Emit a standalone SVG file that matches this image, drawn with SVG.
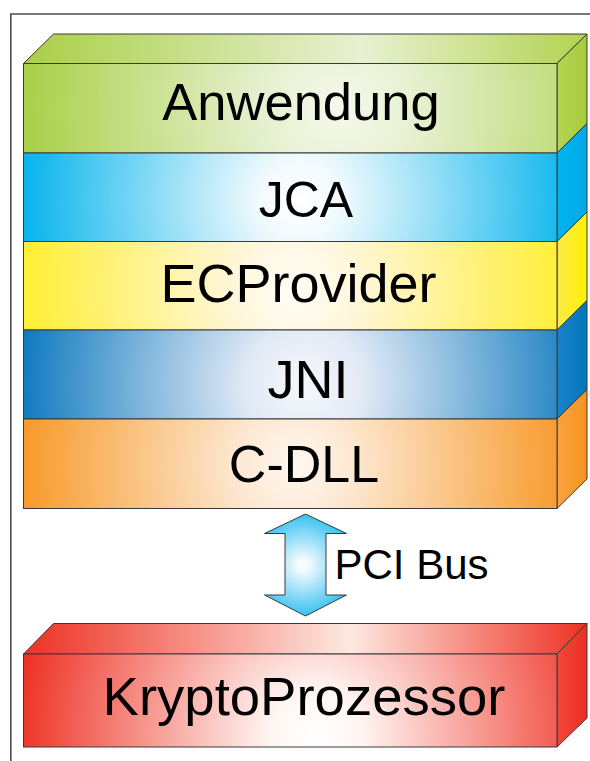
<svg xmlns="http://www.w3.org/2000/svg" width="590" height="761" viewBox="0 0 590 761">
<style>
  .edge{stroke:#3a3a3a;stroke-width:1;stroke-linejoin:miter}
  .lbl{font-family:"Liberation Sans",Arial,sans-serif;fill:#000;text-anchor:middle}
  .frame{fill:none;stroke:#4d4d4d;stroke-width:1.6}
</style>
<defs>
  <radialGradient id="gGreen" gradientUnits="userSpaceOnUse" cx="340" cy="108" r="320">
    <stop offset="0" stop-color="#f5f9ec"/>
    <stop offset="0.25" stop-color="#e6f0cf"/>
    <stop offset="1" stop-color="#a9cf46"/>
  </radialGradient>
  <linearGradient id="tGreen" x1="0" y1="0" x2="1" y2="0">
    <stop offset="0" stop-color="#a9cf46"/>
    <stop offset="0.6" stop-color="#e8f1d2"/>
    <stop offset="1" stop-color="#b2d350"/>
  </linearGradient>
  <linearGradient id="sGreen" x1="0" y1="0" x2="1" y2="0">
    <stop offset="0" stop-color="#b4d455"/>
    <stop offset="1" stop-color="#a6cc3a"/>
  </linearGradient>
  <radialGradient id="gCyan" gradientUnits="userSpaceOnUse" cx="300" cy="200" r="285">
    <stop offset="0" stop-color="#ffffff"/>
    <stop offset="0.15" stop-color="#f0fafd"/>
    <stop offset="1" stop-color="#00b2ec"/>
  </radialGradient>
  <linearGradient id="sCyan" x1="0" y1="0" x2="1" y2="0">
    <stop offset="0" stop-color="#00b5ef"/>
    <stop offset="1" stop-color="#00a9e6"/>
  </linearGradient>
  <radialGradient id="gYellow" gradientUnits="userSpaceOnUse" cx="295" cy="290" r="285">
    <stop offset="0" stop-color="#fffcf6"/>
    <stop offset="0.2" stop-color="#fff7de"/>
    <stop offset="1" stop-color="#ffee2a"/>
  </radialGradient>
  <linearGradient id="sYellow" x1="0" y1="0" x2="1" y2="0">
    <stop offset="0" stop-color="#fbe94c"/>
    <stop offset="1" stop-color="#fff200"/>
  </linearGradient>
  <radialGradient id="gBlue" gradientUnits="userSpaceOnUse" cx="305" cy="385" r="290">
    <stop offset="0" stop-color="#f6f8fc"/>
    <stop offset="0.2" stop-color="#e2eaf6"/>
    <stop offset="1" stop-color="#0b78be"/>
  </radialGradient>
  <linearGradient id="sBlue" x1="0" y1="0" x2="1" y2="0">
    <stop offset="0" stop-color="#1b82c6"/>
    <stop offset="1" stop-color="#0077bd"/>
  </linearGradient>
  <radialGradient id="gOrange" gradientUnits="userSpaceOnUse" cx="295" cy="465" r="290">
    <stop offset="0" stop-color="#fff8f1"/>
    <stop offset="0.2" stop-color="#fde8d2"/>
    <stop offset="1" stop-color="#f7941d"/>
  </radialGradient>
  <linearGradient id="sOrange" x1="0" y1="0" x2="1" y2="0">
    <stop offset="0" stop-color="#f9a243"/>
    <stop offset="1" stop-color="#f7941d"/>
  </linearGradient>
  <radialGradient id="gRed" gradientUnits="userSpaceOnUse" cx="315" cy="735" r="300">
    <stop offset="0" stop-color="#ffffff"/>
    <stop offset="0.15" stop-color="#fff6f3"/>
    <stop offset="1" stop-color="#ee3124"/>
  </radialGradient>
  <linearGradient id="tRed" x1="0" y1="0" x2="1" y2="0">
    <stop offset="0" stop-color="#ee3124"/>
    <stop offset="0.58" stop-color="#fde9e1"/>
    <stop offset="1" stop-color="#ee3124"/>
  </linearGradient>
  <linearGradient id="sRed" x1="0" y1="0" x2="1" y2="0">
    <stop offset="0" stop-color="#f0483a"/>
    <stop offset="1" stop-color="#ed2e24"/>
  </linearGradient>
  <radialGradient id="gArrow" gradientUnits="userSpaceOnUse" cx="303" cy="565" r="60">
    <stop offset="0" stop-color="#ffffff"/>
    <stop offset="0.12" stop-color="#eef9fd"/>
    <stop offset="1" stop-color="#11b5ee"/>
  </radialGradient>
</defs>

<rect width="590" height="761" fill="#ffffff"/>
<path class="frame" d="M10.8,761 V14 H590"/>

<g id="anwendung">
  <polygon class="edge" fill="url(#tGreen)" points="23.5,63.5 53.5,34 587,34 557,63.5"/>
  <polygon class="edge" fill="url(#sGreen)" points="557,63.5 587,34 587,123.5 557,153"/>
  <rect class="edge" fill="url(#gGreen)" x="23.5" y="63.5" width="533.5" height="89.5"/>
  <text class="lbl" x="301" y="120" font-size="52.5">Anwendung</text>
</g>

<g id="jca">
  <polygon class="edge" fill="url(#sCyan)" points="557,153 587,123.5 587,212 557,241.5"/>
  <rect class="edge" fill="url(#gCyan)" x="23.5" y="153" width="533.5" height="88.5"/>
  <text class="lbl" x="306" y="216.5" font-size="50">JCA</text>
</g>

<g id="ecprovider">
  <polygon class="edge" fill="url(#sYellow)" points="557,241.5 587,212 587,300.5 557,330"/>
  <rect class="edge" fill="url(#gYellow)" x="23.5" y="241.5" width="533.5" height="88.5"/>
  <text class="lbl" x="298.5" y="301.5" font-size="54">ECProvider</text>
</g>

<g id="jni">
  <polygon class="edge" fill="url(#sBlue)" points="557,330 587,300.5 587,389.5 557,419"/>
  <rect class="edge" fill="url(#gBlue)" x="23.5" y="330" width="533.5" height="89"/>
  <text class="lbl" x="308" y="398" font-size="54">JNI</text>
</g>

<g id="c-dll">
  <polygon class="edge" fill="url(#sOrange)" points="557,419 587,389.5 587,479 557,508.5"/>
  <rect class="edge" fill="url(#gOrange)" x="23.5" y="419" width="533.5" height="89.5"/>
  <text class="lbl" x="304" y="481.5" font-size="52">C-DLL</text>
</g>

<g id="kryptoprozessor">
  <polygon class="edge" fill="url(#tRed)" points="23.5,654 53.5,623.5 587,623.5 557,654"/>
  <polygon class="edge" fill="url(#sRed)" points="557,654 587,623.5 587,718 557,747"/>
  <rect class="edge" fill="url(#gRed)" x="23.5" y="654" width="533.5" height="93"/>
  <text class="lbl" x="304" y="715" font-size="54.5">KryptoProzessor</text>
</g>

<g id="connectors">
  <polygon class="edge" fill="url(#gArrow)" points="305.5,514 346.5,533.5 326,533.5 326,595 346.5,595 305.5,616 264.5,595 285,595 285,533.5 264.5,533.5"/>
  <text class="lbl" x="411.5" y="579" font-size="42">PCI Bus</text>
</g>
</svg>
